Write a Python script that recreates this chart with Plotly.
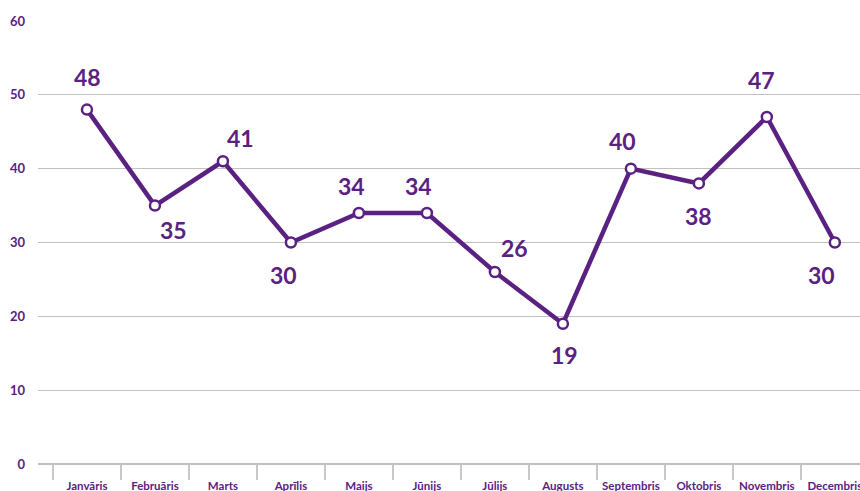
import plotly.graph_objects as go

months = ["Janvāris", "Februāris", "Marts", "Aprīlis", "Maijs", "Jūnijs",
          "Jūlijs", "Augusts", "Septembris", "Oktobris", "Novembris", "Decembris"]
values = [48, 35, 41, 30, 34, 34, 26, 19, 40, 38, 47, 30]
y_ticks = [0, 10, 20, 30, 40, 50, 60]

# label offsets (style only): (xshift, yshift) in pixels
label_shift = [(1, 33), (19, -24), (18, 23), (-7, -32), (-7, 27), (-8, 27),
               (20, 24), (2, -31), (-8, 28), (0, -33), (-5, 37), (-13, -32)]

PURPLE = "#5b2182"
FONT = "Lato"

fig = go.Figure()
fig.add_trace(go.Scatter(
    x=months, y=values, mode="lines+markers",
    line=dict(color=PURPLE, width=4.5),
    marker=dict(size=10, color="white", line=dict(color=PURPLE, width=2.5)),
    hoverinfo="skip", showlegend=False, cliponaxis=False,
))

for m, v, (dx, dy) in zip(months, values, label_shift):
    fig.add_annotation(x=m, y=v, text=f"<b>{v}</b>", showarrow=False,
                       xshift=dx, yshift=dy,
                       font=dict(family=FONT, size=23, color=PURPLE))

fig.update_layout(
    width=860, height=491,
    margin=dict(l=38, r=0, t=21, b=27, autoexpand=False),
    paper_bgcolor="white", plot_bgcolor="white",
    font=dict(family=FONT, color=PURPLE),
)
fig.update_xaxes(
    type="category", range=[-0.72, 11.37], automargin=False, tickangle=0,
    tickson="boundaries", ticks="outside", ticklen=15, tickcolor="#c8c8c8", tickwidth=1.5,
    showgrid=False, showline=False, zeroline=False, ticklabelstandoff=13,
    tickfont=dict(family=FONT, size=11.5, color=PURPLE, weight="bold"),
)
fig.update_yaxes(
    range=[0, 60], tickvals=y_ticks, ticktext=[f"<b>{t}</b>" for t in y_ticks],
    automargin=False,
    showgrid=True, gridcolor="#c0c0c0", gridwidth=1.2,
    zeroline=True, zerolinecolor="#c0c0c0", zerolinewidth=1.5,
    showline=False, ticklabelstandoff=12,
    tickfont=dict(family=FONT, size=13, color=PURPLE),
)

fig.write_html("out.html", config={"displayModeBar": False},
               post_script="document.body.style.margin='0';document.body.style.overflow='hidden';")
